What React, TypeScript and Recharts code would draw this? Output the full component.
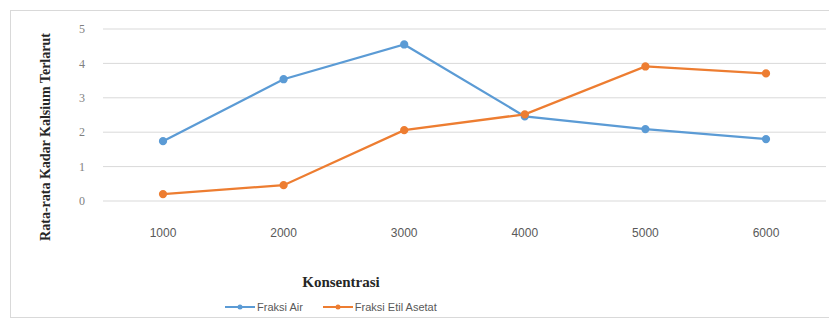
import { CartesianGrid, Label, Line, LineChart, XAxis, YAxis } from "recharts";

const categories = ["1000", "2000", "3000", "4000", "5000", "6000"];
const fraksiAir = [1.74, 3.54, 4.55, 2.46, 2.09, 1.8];
const fraksiEtilAsetat = [0.2, 0.46, 2.06, 2.52, 3.91, 3.71];
const yTicks = [0, 1, 2, 3, 4, 5];

const BLUE = "#5b9bd5";
const ORANGE = "#ed7d31";

const rows = categories.map((c, i) => ({
  konsentrasi: c,
  air: fraksiAir[i],
  etil: fraksiEtilAsetat[i],
}));

// tick label renderers
function XTick(props: any) {
  const { x, y, payload } = props;
  return (
    <text x={x} y={y + 26} dy="0.355em" textAnchor="middle" fontSize={12} fill="#595959" fontFamily="Liberation Sans, Arial">
      {payload.value}
    </text>
  );
}

function YTick(props: any) {
  const { y, payload } = props;
  return (
    <text x={71} y={y} dy="0.355em" textAnchor="middle" fontSize={12} fill="#7f7f7f" fontFamily="Liberation Serif, Times New Roman, serif">
      {payload.value}
    </text>
  );
}

function LegendItem({ color, label }: { color: string; label: string }) {
  return (
    <span style={{ display: "inline-flex", alignItems: "center", marginRight: 20 }}>
      <svg width={30} height={10} style={{ marginRight: 2 }}>
        <line x1={0} y1={5} x2={30} y2={5} stroke={color} strokeWidth={2} />
        <circle cx={15} cy={5} r={2.5} fill={color} />
      </svg>
      {label}
    </span>
  );
}

export default function App() {
  return (
    <div
      style={{
        position: "relative",
        width: 818,
        height: 306,
        border: "1px solid #d9d9d9",
        marginLeft: 2,
        marginTop: 2,
        background: "#fff",
      }}
    >
      <LineChart width={818} height={306} data={rows} margin={{ top: 18, right: 3, bottom: 26, left: 0 }}>
        <CartesianGrid vertical={false} stroke="#d9d9d9" />
        <XAxis
          dataKey="konsentrasi"
          axisLine={false}
          tickLine={false}
          tickMargin={0}
          height={90}
          tick={<XTick />}
          interval={0}
          padding={{ left: 60, right: 60 }}
        >
          <Label
            content={(p: any) => (
              <text
                x={330}
                y={p.viewBox.y + 81}
                dy="0.355em"
                textAnchor="middle"
                fontSize={15}
                fontWeight="bold"
                fill="#262626"
                fontFamily="Liberation Serif, Times New Roman, serif"
              >
                Konsentrasi
              </text>
            )}
          />
        </XAxis>
        <YAxis
          domain={[0, 5]}
          ticks={yTicks}
          width={92}
          axisLine={false}
          tickLine={false}
          tick={<YTick />}
        >
          <Label
            content={() => (
              <text
                x={34}
                y={126}
                dy="0.355em"
                textAnchor="middle"
                transform="rotate(-90 34 126)"
                fontSize={14}
                fontWeight="bold"
                fill="#262626"
                fontFamily="Liberation Serif, Times New Roman, serif"
              >
                Rata-rata Kadar Kalsium Terlarut
              </text>
            )}
          />
        </YAxis>
        <Line
          type="linear"
          dataKey="air"
          name="Fraksi Air"
          stroke={BLUE}
          strokeWidth={2.25}
          dot={{ r: 3, fill: BLUE, stroke: BLUE }}
          isAnimationActive={false}
        />
        <Line
          type="linear"
          dataKey="etil"
          name="Fraksi Etil Asetat"
          stroke={ORANGE}
          strokeWidth={2.25}
          dot={{ r: 3, fill: ORANGE, stroke: ORANGE }}
          isAnimationActive={false}
        />
      </LineChart>
      <div
        style={{
          position: "absolute",
          left: 214,
          top: 290,
          fontFamily: "Liberation Sans, Arial",
          fontSize: 11,
          color: "#595959",
          display: "flex",
          whiteSpace: "nowrap",
        }}
      >
        <LegendItem color={BLUE} label="Fraksi Air" />
        <LegendItem color={ORANGE} label="Fraksi Etil Asetat" />
      </div>
    </div>
  );
}
